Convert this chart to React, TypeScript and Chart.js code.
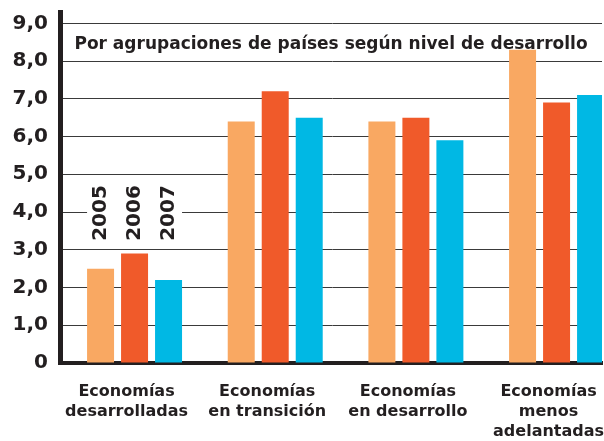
import React, { useEffect, useRef } from 'react';
import { Chart, registerables } from 'chart.js';

Chart.register(...registerables);

const categories: string[][] = [
  ['Economías', 'desarrolladas'],
  ['Economías', 'en transición'],
  ['Economías', 'en desarrollo'],
  ['Economías', 'menos', 'adelantadas'],
];
const years = ['2005', '2006', '2007'];
const values2005 = [2.5, 6.4, 6.4, 8.3];
const values2006 = [2.9, 7.2, 6.5, 6.9];
const values2007 = [2.2, 6.5, 5.9, 7.1];
const seriesValues = [values2005, values2006, values2007];
const yTickLabels = ['0', '1,0', '2,0', '3,0', '4,0', '5,0', '6,0', '7,0', '8,0', '9,0'];
const chartTitle = 'Por agrupaciones de países según nivel de desarrollo';

const colors = ['#F9A862', '#F05A2A', '#00B8E4'];
const ink = '#231F20';
const FONT = 'DejaVu Sans';

const overlayPlugin = {
  id: 'overlay',
  afterDraw(chart: any) {
    const { ctx, chartArea } = chart;
    const yScale = chart.scales.y;
    ctx.save();
    // title inside the plot
    ctx.font = `bold 17px "${FONT}"`;
    ctx.fillStyle = ink;
    ctx.textAlign = 'center';
    ctx.textBaseline = 'alphabetic';
    ctx.fillText(chartTitle, (chartArea.left + chartArea.right) / 2, chartArea.top + 36.5);

    // year labels above first group
    const metas = years.map((_, i) => chart.getDatasetMeta(i));
    const first = metas[0].data[0];
    const last = metas[metas.length - 1].data[0];
    const yMid = yScale.getPixelForValue(4);
    const x0 = first.x - first.width / 2;
    const x1 = last.x + last.width / 2;
    ctx.fillStyle = '#ffffff';
    ctx.fillRect(x0, yMid - 30, x1 - x0, 60);
    ctx.font = `bold 20px "${FONT}"`;
    ctx.fillStyle = ink;
    years.forEach((yr, i) => {
      const el = metas[i].data[0];
      ctx.save();
      ctx.translate(el.x + 0.5, yMid + 1);
      ctx.rotate(-Math.PI / 2);
      ctx.textAlign = 'center';
      ctx.textBaseline = 'middle';
      ctx.fillText(yr, 0, 0);
      ctx.restore();
    });
    ctx.restore();
  },
};

export default function App() {
  const ref = useRef<HTMLCanvasElement | null>(null);
  useEffect(() => {
    if (!ref.current) return;
    const chart = new Chart(ref.current, {
      type: 'bar',
      data: {
        datasets: years.map((yr, i) => ({
          label: yr,
          data: seriesValues[i].map((v, j) => ({ x: j, y: v })),
          backgroundColor: colors[i],
          borderWidth: 0,
          categoryPercentage: 0.725,
          barPercentage: 0.794,
        })),
      },
      options: {
        animation: false,
        responsive: true,
        maintainAspectRatio: false,
        layout: { padding: { top: 12, right: 2, left: 0, bottom: 0 } },
        plugins: {
          legend: { display: false },
          title: { display: false },
          tooltip: { enabled: false },
        },
        scales: {
          x: {
            type: 'linear',
            min: -0.53,
            max: 3.323,
            offset: false,
            z: 1,
            grid: { display: false, drawTicks: false },
            border: { display: true, width: 4, color: ink },
            ticks: {
              stepSize: 1,
              includeBounds: false,
              autoSkip: false,
              maxRotation: 0,
              minRotation: 0,
              padding: 19,
              labelOffset: -8,
              color: ink,
              font: { family: FONT, weight: 'bold', size: 16, lineHeight: 1.25 },
              callback: (v: any) => (Number.isInteger(v) && categories[v] ? categories[v] : ''),
            },
            afterFit: (s: any) => {
              s.height = 78;
              s.paddingLeft = 0;
              s.paddingRight = 0;
            },
          },
          y: {
            min: 0,
            max: 9.3,
            z: 1,
            grid: { color: '#3a3a3a', lineWidth: 1, drawTicks: false },
            border: { display: true, width: 5, color: ink },
            ticks: {
              stepSize: 1,
              includeBounds: false,
              padding: 12,
              color: ink,
              font: { family: FONT, weight: 'bold', size: 20 },
              callback: (v: any) => yTickLabels[Math.round(v)] ?? '',
            },
            afterFit: (s: any) => {
              s.width = 60;
              s.paddingTop = 0;
              s.paddingBottom = 0;
            },
          },
        },
      } as any,
      plugins: [overlayPlugin],
    });
    return () => chart.destroy();
  }, []);
  return (
    <div style={{ position: 'fixed', left: 0, top: 0, width: 604, height: 441, background: '#fff' }}>
      <canvas ref={ref} />
    </div>
  );
}
